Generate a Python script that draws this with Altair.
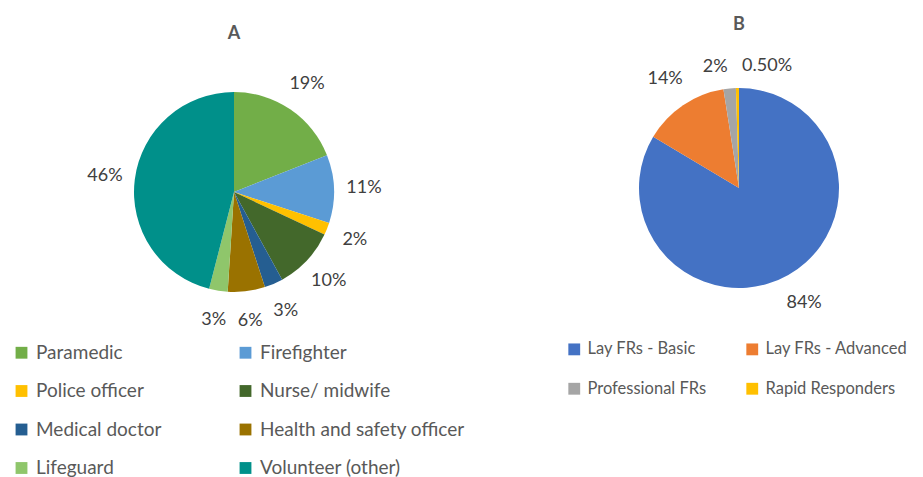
import altair as alt
import pandas as pd

# ---- Data: Panel A ----
a_cats = ["Paramedic", "Firefighter", "Police officer", "Nurse/ midwife",
          "Medical doctor", "Health and safety officer", "Lifeguard", "Volunteer (other)"]
a_vals = [19, 11, 2, 10, 3, 6, 3, 46]
a_labels = ["19%", "11%", "2%", "10%", "3%", "6%", "3%", "46%"]
a_colors = ["#72ae48", "#5b9bd5", "#ffc000", "#43682b",
            "#255e91", "#9a7200", "#8fc66b", "#00908a"]

# ---- Data: Panel B ----
b_cats = ["Lay FRs - Basic", "Lay FRs - Advanced", "Professional FRs", "Rapid Responders"]
b_vals = [84, 14, 2, 0.5]
b_labels = ["84%", "14%", "2%", "0.50%"]
b_colors = ["#4472c4", "#ed7d31", "#a5a5a5", "#ffc000"]

FONT = "Lato"
dfa = pd.DataFrame({"cat": a_cats, "value": a_vals, "label": a_labels, "idx": range(len(a_cats))})
dfb = pd.DataFrame({"cat": b_cats, "value": b_vals, "label": b_labels, "idx": range(len(b_cats))})


def legend(x, y, rowpad, colpad, fs):
    return alt.Legend(title=None, orient="none", legendX=x, legendY=y, columns=2,
                      direction="horizontal",
                      symbolType="square", symbolSize=140, symbolStrokeWidth=0,
                      labelFontSize=fs, labelColor="#595959", labelFont=FONT,
                      rowPadding=rowpad, columnPadding=colpad, gridAlign="each",
                      labelLimit=400, padding=0, labelOffset=5)


def pie(df, cats, colors, leg):
    base = alt.Chart(df).encode(
        theta=alt.Theta("value:Q", stack=True),
        order=alt.Order("idx:Q"),
    )
    arc = base.mark_arc(radius=100, stroke=None).encode(
        color=alt.Color("cat:N", sort=cats,
                        scale=alt.Scale(domain=cats, range=colors), legend=leg)
    )
    return base, arc


baseA, arcA = pie(dfa, a_cats, a_colors, legend(4, 292, 18.5, 74, 19))
textA = baseA.mark_text(radius=130, fontSize=18, color="#404040", font=FONT).encode(
    text="label:N")
chartA = alt.layer(arcA, textA).properties(
    width=452, height=282,
    title=alt.Title("A", fontSize=18, fontWeight="bold", color="#595959", font=FONT,
                    offset=8, frame="group"))

baseB, arcB = pie(dfb, b_cats, b_colors, legend(-4, 290, 22.5, 37, 16.5))
textB_big = baseB.mark_text(radius=132, fontSize=18, color="#404040", font=FONT).encode(
    text=alt.condition("datum.value >= 5", alt.Text("label:N"), alt.value("")))
textB_mid = baseB.mark_text(radius=122, fontSize=18, color="#404040", font=FONT,
                            align="right", dx=0).encode(
    text=alt.condition("datum.value >= 1 && datum.value < 5", alt.Text("label:N"), alt.value("")))
textB_small = baseB.mark_text(radius=122, fontSize=18, color="#404040", font=FONT,
                              align="left", dx=5).encode(
    text=alt.condition("datum.value < 1", alt.Text("label:N"), alt.value("")))
chartB = alt.layer(arcB, textB_big, textB_mid, textB_small).properties(
    width=338, height=274,
    title=alt.Title("B", fontSize=18, fontWeight="bold", color="#595959", font=FONT,
                    offset=13, frame="group"))

chart = alt.hconcat(chartA, chartB, spacing=110, bounds="flush").resolve_scale(
    color="independent", theta="independent"
).configure_view(stroke=None).properties(padding={"left": 0, "top": 8, "right": 0, "bottom": 0})

chart.save("out.html", embed_options={"renderer": "svg", "actions": False})
